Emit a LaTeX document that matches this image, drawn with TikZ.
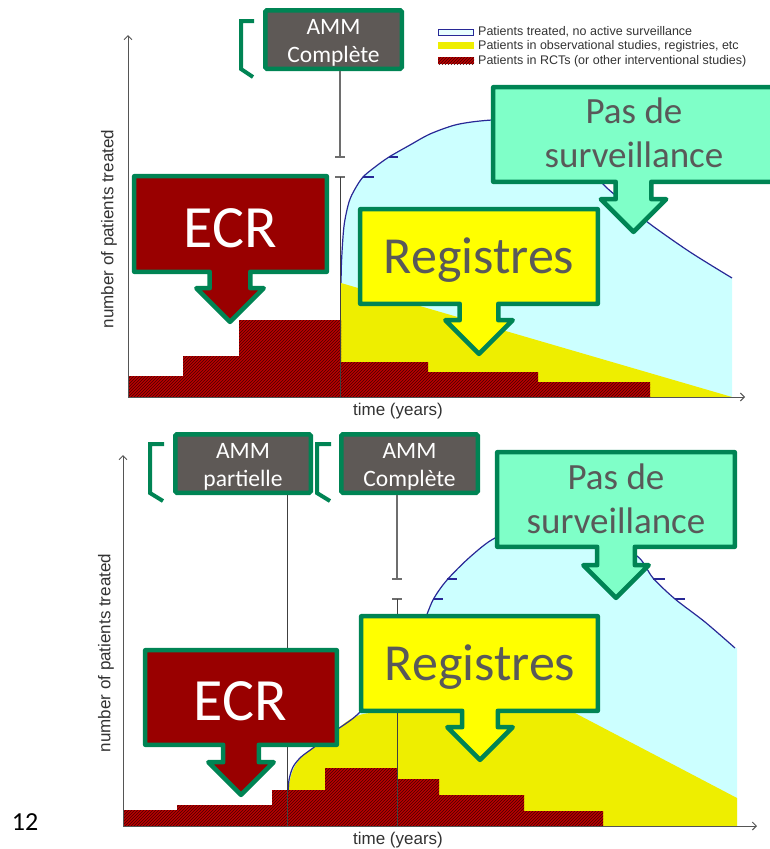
\documentclass[tikz,border=0pt]{standalone}
\usepackage{fontspec}
\setmainfont{Carlito}
\newfontfamily\chartfont{Liberation Sans}
\usetikzlibrary{arrows.meta,patterns}

\definecolor{calloutgreen}{RGB}{0,132,84}
\definecolor{ammgray}{RGB}{94,89,86}
\definecolor{ecrred}{RGB}{153,0,0}
\definecolor{regyellow}{RGB}{255,255,0}
\definecolor{pasteal}{RGB}{127,255,200}
\definecolor{labelgray}{RGB}{89,89,89}
\definecolor{survcyan}{RGB}{204,255,255}
\definecolor{obsyellow}{RGB}{238,238,0}
\definecolor{rctred}{RGB}{185,0,0}
\definecolor{rcthatch}{RGB}{70,0,0}
\definecolor{curveblue}{RGB}{40,40,150}
\definecolor{axisgray}{RGB}{85,85,85}
\definecolor{markgray}{RGB}{110,110,110}
\definecolor{charttext}{RGB}{50,50,50}

\tikzset{
  calloutshape/.style={draw=calloutgreen, line width=4.5pt, line join=round},
  ammbox/.style={draw=calloutgreen, fill=ammgray, line width=4.5pt, rounded corners=1.5pt,
    inner sep=0pt, minimum height=58.5pt},
  bracket/.style={draw=calloutgreen, line width=4pt},
  axisline/.style={draw=axisgray, line width=1pt, -{Straight Barb[length=4pt,width=8pt]}},
  markline/.style={draw=markgray, line width=1.2pt},
  barcap/.style={draw=markgray, line width=1.2pt},
  survcurve/.style={draw=curveblue, line width=1.2pt},
  rctfill/.style={fill=rctred, postaction={pattern=north east lines, pattern color=rcthatch}},
  ammtext/.style={text=white, font=\fontsize{23.5}{28}\selectfont, anchor=base, inner sep=0pt},
  ecrtext/.style={text=white, font=\fontsize{60}{72}\selectfont, anchor=base, inner sep=0pt},
  regtext/.style={text=labelgray, font=\fontsize{52}{62}\selectfont, anchor=base, inner sep=0pt},
  pastext/.style={text=labelgray, font=\fontsize{37}{44}\selectfont, anchor=base, inner sep=0pt},
  legendtext/.style={text=charttext, font=\chartfont\fontsize{12.5}{15}\selectfont, anchor=base west, inner sep=0pt},
  axistext/.style={text=charttext, font=\chartfont\fontsize{17}{20}\selectfont, inner sep=0pt},
}

% box with a downward block arrow; #1 fill, #2..#5 left/top/right/bottom,
% #6 arrow axis x, #7 half shaft width, #8 wing y, #9 tip y
\newcommand\callout[9]{%
  \path[calloutshape, fill=#1] (#2,#3) -- (#4,#3) -- (#4,#5) -- ({#6+#7},#5) -- ({#6+#7},#8)
    -- ({#6+#9-#8},#8) -- (#6,#9) -- ({#6-#9+#8},#8) -- ({#6-#7},#8) -- ({#6-#7},#5)
    -- (#2,#5) -- cycle;}

\begin{document}
\begin{tikzpicture}[x=1pt,y=-1pt]
\useasboundingbox (0,0) rectangle (769,849);

% ---------------- upper chart ----------------
\coordinate (o1) at (128,397);
\coordinate (ytop1) at (128,35);
\coordinate (xend1) at (745,397);

\fill[survcyan] (341,397) -- plot[smooth] coordinates {(341,290) (341.5,262) (344,226) (349,202)
  (355,189) (363,177) (375,167) (389,157) (410,145) (430,134) (455,125) (480,121) (505,120)
  (530,126) (560,143) (585,165) (607,188) (630,207) (650,224) (690,252) (732,278)}
  -- (732,397) -- cycle;
\draw[survcurve] plot[smooth] coordinates {(341,290) (341.5,262) (344,226) (349,202)
  (355,189) (363,177) (375,167) (389,157) (410,145) (430,134) (455,125) (480,121) (505,120)
  (530,126) (560,143) (585,165) (607,188) (630,207) (650,224) (690,252) (732,278)};
\draw[survcurve] (363,177) -- (374,177);
\draw[survcurve] (389,157) -- (398,157);

\fill[obsyellow] (341,397) -- (341,283) -- (732,397) -- cycle;

\path[rctfill] (o1) -- (128,376) -- (183,376) -- (183,356) -- (239,356) -- (239,320)
  -- (341,320) -- (341,362) -- (428,362) -- (428,372) -- (538,372) -- (538,382)
  -- (650,382) -- (650,397) -- cycle;

\draw[axisline] (o1) -- (ytop1);
\draw[axisline] (o1) -- (xend1);

\node[axistext, anchor=base] (time1) at (398,415) {time (years)};
\node[axistext, rotate=90] (npt1) at (109,229) {number of patients treated};

% legend
\path[fill=survcyan!45!white, draw=curveblue, line width=1.2pt] (438.6,29.6) rectangle (473.4,35.4);
\fill[obsyellow] (438,42) rectangle (474,49);
\path[rctfill] (438,57) rectangle (474,64);
\node[legendtext] (leg1) at (478,35) {Patients treated, no active surveillance};
\node[legendtext] (leg2) at (478,49.5) {Patients in observational studies, registries, etc};
\node[legendtext] (leg3) at (478,64) {Patients in RCTs (or other interventional studies)};

% approval marker
\node[ammbox, minimum width=136.5pt] (ammT) at (333.5,39.5) {};
\node[ammtext] (ammTa) at (333.5,34) {AMM};
\node[ammtext] (ammTb) at (333.5,62) {Complète};
\draw[bracket] (254,21) -- (241,21) -- (241,69) -- (253,77);
\coordinate (capT1) at (340,157);
\coordinate (capT2) at (340,177);
\coordinate (baseT) at (340,397);
\draw[markline] (ammT.south -| capT1) -- (capT1);
\draw[barcap] (335,157) -- (345,157);
\draw[barcap] (335,177) -- (345,177);
\draw[draw=black!75, line width=1pt] (capT2) -- (baseT);

% callouts
\callout{ecrred}{134.2}{176.2}{326.8}{271.8}{230}{20.3}{288.2}{321.9}
\node[ecrtext] (ecrT) at (230,247) {ECR};
\callout{regyellow}{360.2}{209.2}{597.8}{303.8}{479}{19.3}{320.2}{353.9}
\node[regtext] (regT) at (479,273) {Registres};
\callout{pasteal}{493.2}{87.2}{779}{181.8}{633.5}{17.8}{199.2}{231.9}
\node[pastext] (pasTa) at (634,123) {Pas de};
\node[pastext] (pasTb) at (634,167) {surveillance};

% ---------------- lower chart ----------------
\coordinate (o2) at (123,826);
\coordinate (ytop2) at (123,455);
\coordinate (xend2) at (757,826);

\fill[survcyan] (288,826) -- plot[smooth] coordinates {(288,796) (289,780) (293,767) (301,757)
  (313,748) (335,731) (360,712) (395,668) (420,630) (433,600) (447,580) (470,557) (495,538)
  (530,527) (565,529) (600,540) (637,556) (653,578) (675,599) (705,622) (735,648)}
  -- (737,648) -- (737,826) -- cycle;
\fill[obsyellow] (288,826) -- (288,794) .. controls (290,765) and (300,755) .. (320,744)
  .. controls (335,735) and (345,715) .. (370,713) -- (573,712) -- (737,798) -- (737,826) -- cycle;
\draw[survcurve] plot[smooth] coordinates {(288,796) (289,780) (293,767) (301,757)
  (313,748) (335,731) (360,712) (395,668) (420,630) (433,600) (447,580) (470,557) (495,538)
  (530,527) (565,529) (600,540) (637,556) (653,578) (675,599) (705,622) (735,648)};
\draw[survcurve] (433,599) -- (443,599);
\draw[survcurve] (447,579) -- (457,579);
\draw[survcurve] (653,579) -- (665,579);
\draw[survcurve] (675,599) -- (685,599);

\path[rctfill] (o2) -- (123,810) -- (177,810) -- (177,805) -- (272,805) -- (272,790)
  -- (325,790) -- (325,768) -- (397,768) -- (397,779) -- (439,779) -- (439,795)
  -- (524,795) -- (524,811) -- (603,811) -- (603,826) -- cycle;

\draw[axisline] (o2) -- (ytop2);
\draw[axisline] (o2) -- (xend2);

\node[axistext, anchor=base] (time2) at (398,844) {time (years)};
\node[axistext, rotate=90] (npt2) at (106,653) {number of patients treated};

% approval markers
\node[ammbox, minimum width=135.5pt] (ammP) at (243,463.5) {};
\node[ammtext] (ammPa) at (243,458) {AMM};
\node[ammtext] (ammPb) at (243,486) {partielle};
\draw[bracket] (164,444) -- (150,444) -- (150,493) -- (163,501);
\coordinate (baseP) at (287.5,826);
\draw[draw=black!75, line width=1pt] (ammP.south -| baseP) -- (baseP);

\node[ammbox, minimum width=136.5pt] (ammC) at (409.5,463.5) {};
\node[ammtext] (ammCa) at (409.5,458) {AMM};
\node[ammtext] (ammCb) at (409.5,486) {Complète};
\draw[bracket] (331,444) -- (317,444) -- (317,493) -- (330,501);
\coordinate (capB1) at (397,579);
\coordinate (capB2) at (397,599);
\coordinate (baseC) at (397,826);
\draw[markline] (ammC.south -| capB1) -- (capB1);
\draw[barcap] (392,579) -- (402,579);
\draw[barcap] (392,599) -- (402,599);
\draw[draw=black!75, line width=1pt] (capB2) -- (baseC);

% callouts
\callout{ecrred}{145.2}{650.2}{336.8}{744.8}{241}{17.8}{762.2}{794.9}
\node[ecrtext] (ecrB) at (240,720) {ECR};
\callout{regyellow}{361.2}{616.2}{597.8}{710.8}{480}{17.8}{727.2}{759.9}
\node[regtext] (regB) at (480,680) {Registres};
\callout{pasteal}{497.2}{452.2}{734.8}{546.8}{616}{18.8}{565.2}{597.9}
\node[pastext] (pasBa) at (616,489) {Pas de};
\node[pastext] (pasBb) at (616,533) {surveillance};

% slide number
\node[font=\fontsize{26}{30}\selectfont, anchor=base, inner sep=0pt] (pageno) at (25,830) {12};
\end{tikzpicture}
\end{document}
